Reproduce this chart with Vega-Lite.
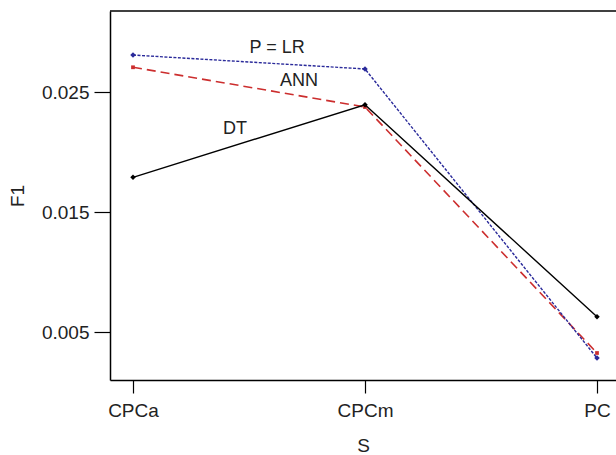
{
  "$schema": "https://vega.github.io/schema/vega-lite/v6.json",
  "width": 506,
  "height": 369,
  "autosize": {"type": "none"},
  "padding": {"left": 110, "top": 11, "right": 0, "bottom": 75},
  "background": "white",
  "config": {
    "view": {"stroke": null},
    "font": "Liberation Sans",
    "axis": {
      "domainColor": "black", "domainWidth": 1.5, "tickColor": "black", "tickWidth": 1.2,
      "grid": false, "labelFont": "Liberation Sans", "titleFont": "Liberation Sans",
      "labelFontSize": 19, "titleFontSize": 19, "titleFontWeight": "normal",
      "labelColor": "#222", "titleColor": "#222"
    }
  },
  "datasets": {
    "f1": [
      {"S": 0, "Model": "LR", "F1": 0.02808},
      {"S": 1, "Model": "LR", "F1": 0.02692},
      {"S": 2, "Model": "LR", "F1": 0.00283},
      {"S": 0, "Model": "ANN", "F1": 0.02706},
      {"S": 1, "Model": "ANN", "F1": 0.02375},
      {"S": 2, "Model": "ANN", "F1": 0.00325},
      {"S": 0, "Model": "DT", "F1": 0.01789},
      {"S": 1, "Model": "DT", "F1": 0.02394},
      {"S": 2, "Model": "DT", "F1": 0.00627}
    ],
    "labels": [
      {"S": 0.621, "F1": 0.02867, "text": "P = LR"},
      {"S": 0.716, "F1": 0.02594, "text": "ANN"},
      {"S": 0.44, "F1": 0.02192, "text": "DT"}
    ],
    "frame": [{"F1": 0.03175}]
  },
  "layer": [
    {
      "data": {"name": "frame"},
      "mark": {"type": "rule", "color": "black", "strokeWidth": 1.5},
      "encoding": {"y": {"field": "F1", "type": "quantitative"}}
    },
    {
      "data": {"name": "f1"},
      "transform": [{"filter": "datum.Model == 'ANN'"}],
      "mark": {"type": "line", "color": "#cc2e2e", "strokeWidth": 1.6, "strokeDash": [9, 5],
               "point": {"shape": "square", "size": 14, "filled": true, "color": "#cc2e2e"}},
      "encoding": {
        "x": {
          "field": "S", "type": "quantitative",
          "scale": {"domain": [-0.0991, 2.0819], "nice": false, "zero": false},
          "axis": {
            "title": "S", "values": [0, 1, 2], "tickSize": 13, "labelPadding": 8, "titlePadding": 16,
            "labelExpr": "datum.value == 0 ? 'CPCa' : datum.value == 1 ? 'CPCm' : 'PC'"
          }
        },
        "y": {
          "field": "F1", "type": "quantitative",
          "scale": {"domain": [0.001, 0.03175], "nice": false, "zero": false},
          "axis": {
            "title": "F1", "values": [0.005, 0.015, 0.025], "format": ".3f",
            "tickSize": 16, "labelPadding": 5, "titlePadding": 14
          }
        }
      }
    },
    {
      "data": {"name": "f1"},
      "transform": [{"filter": "datum.Model == 'LR'"}],
      "mark": {"type": "line", "color": "#2a2a9a", "strokeWidth": 1.4, "strokeDash": [3, 1.5],
               "point": {"shape": "diamond", "size": 30, "filled": true, "color": "#2a2a9a"}},
      "encoding": {
        "x": {"field": "S", "type": "quantitative"},
        "y": {"field": "F1", "type": "quantitative"}
      }
    },
    {
      "data": {"name": "f1"},
      "transform": [{"filter": "datum.Model == 'DT'"}],
      "mark": {"type": "line", "color": "black", "strokeWidth": 1.4,
               "point": {"shape": "diamond", "size": 30, "filled": true, "color": "black"}},
      "encoding": {
        "x": {"field": "S", "type": "quantitative"},
        "y": {"field": "F1", "type": "quantitative"}
      }
    },
    {
      "data": {"name": "labels"},
      "mark": {"type": "text", "fontSize": 18, "color": "#222", "font": "Liberation Sans"},
      "encoding": {
        "x": {"field": "S", "type": "quantitative"},
        "y": {"field": "F1", "type": "quantitative"},
        "text": {"field": "text"}
      }
    }
  ]
}
